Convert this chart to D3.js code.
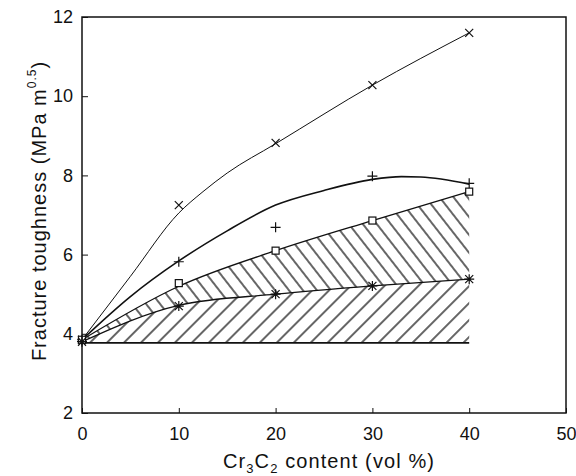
<!doctype html>
<html lang="en">
<head>
  <meta charset="utf-8">
  <script src="https://cdn.jsdelivr.net/npm/d3@7"></script>
  <style>
    body { margin: 0; background: #fff; }
    text { font-family: "Liberation Sans", Arial, sans-serif; fill: #111; }
  </style>
</head>
<body>
  <div id="chart"></div>
  <script>
  // data
  var xVals = [0, 10, 20, 30, 40];
  var crossY = [3.85, 7.25, 8.82, 10.28, 11.6];
  var plusY = [3.85, 5.82, 6.69, 7.98, 7.8];
  var squareY = [3.85, 5.28, 6.1, 6.86, 7.59];
  var starY = [3.8, 4.7, 5.0, 5.21, 5.38];

  // drawn curves
  var crossLineX = [0, 5, 10, 12.5, 15, 20, 30, 40];
  var crossLineY = [3.85, 5.45, 7.05, 7.59, 8.06, 8.8, 10.28, 11.6];
  var plusFitX = [0, 5, 10, 15, 20, 25, 30, 33, 35, 40];
  var plusFitY = [3.85, 4.94, 5.84, 6.6, 7.25, 7.62, 7.9, 7.97, 7.96, 7.78];
  var squareLineY = [3.85, 5.2, 6.1, 6.86, 7.59];
  var starLineY = [3.8, 4.72, 5.0, 5.21, 5.38];
  var baseY = 3.77;

  var xTicks = [0, 10, 20, 30, 40, 50];
  var yTicks = [2, 4, 6, 8, 10, 12];

  var width = 576, height = 476;
  var margin = {top: 17, right: 10, bottom: 63, left: 82};

  var svg = d3.select("#chart").append("svg")
      .attr("width", width)
      .attr("height", height);

  var x = d3.scaleLinear().domain([0, 50]).range([margin.left, width - margin.right]);
  var y = d3.scaleLinear().domain([2, 12]).range([height - margin.bottom, margin.top]);

  var defs = svg.append("defs");
  // backslash hatch (upper band)
  defs.append("pattern")
      .attr("id", "hatchBack")
      .attr("patternUnits", "userSpaceOnUse")
      .attr("width", 11).attr("height", 11)
      .attr("patternTransform", "rotate(-38)")
    .append("line")
      .attr("x1", 5).attr("y1", 0).attr("x2", 5).attr("y2", 11)
      .attr("stroke", "#000").attr("stroke-width", 1.2);
  // forward slash hatch (lower band)
  defs.append("pattern")
      .attr("id", "hatchFwd")
      .attr("patternUnits", "userSpaceOnUse")
      .attr("width", 12).attr("height", 12)
      .attr("patternTransform", "rotate(45)")
    .append("line")
      .attr("x1", 6).attr("y1", 0).attr("x2", 6).attr("y2", 12)
      .attr("stroke", "#000").attr("stroke-width", 1.2);

  var upperBand = xVals.map(function(d, i) { return {x: d, lo: starLineY[i], hi: squareLineY[i]}; });
  var lowerBand = xVals.map(function(d, i) { return {x: d, lo: baseY, hi: starLineY[i]}; });

  var band = d3.area()
      .x(function(d) { return x(d.x); })
      .y0(function(d) { return y(d.lo); })
      .y1(function(d) { return y(d.hi); })
      .curve(d3.curveMonotoneX);

  svg.append("path").datum(upperBand).attr("d", band).attr("fill", "url(#hatchBack)");
  svg.append("path").datum(lowerBand).attr("d", band).attr("fill", "url(#hatchFwd)");

  var line = d3.line()
      .x(function(d) { return x(d[0]); })
      .y(function(d) { return y(d[1]); })
      .curve(d3.curveMonotoneX);

  function pairs(xs, ys) { return xs.map(function(d, i) { return [d, ys[i]]; }); }

  svg.append("path").datum(pairs(crossLineX, crossLineY)).attr("d", line)
      .attr("fill", "none").attr("stroke", "#111").attr("stroke-width", 1);
  svg.append("path").datum(pairs(plusFitX, plusFitY)).attr("d", line)
      .attr("fill", "none").attr("stroke", "#111").attr("stroke-width", 1.6);
  svg.append("path").datum(pairs(xVals, squareLineY)).attr("d", line)
      .attr("fill", "none").attr("stroke", "#111").attr("stroke-width", 1.3);
  svg.append("path").datum(pairs(xVals, starLineY)).attr("d", line)
      .attr("fill", "none").attr("stroke", "#111").attr("stroke-width", 1.3);
  svg.append("line")
      .attr("x1", x(0)).attr("x2", x(40))
      .attr("y1", y(baseY)).attr("y2", y(baseY))
      .attr("stroke", "#111").attr("stroke-width", 1.6);

  // markers
  var mk = svg.append("g").attr("stroke", "#111").attr("fill", "none").attr("stroke-width", 1.2);
  var s = 4;
  pairs(xVals, crossY).forEach(function(p) {
    var cx = x(p[0]), cy = y(p[1]);
    mk.append("path").attr("d", "M" + (cx - s) + "," + (cy - s) + "L" + (cx + s) + "," + (cy + s) +
      "M" + (cx - s) + "," + (cy + s) + "L" + (cx + s) + "," + (cy - s));
  });
  pairs(xVals, plusY).forEach(function(p) {
    var cx = x(p[0]), cy = y(p[1]);
    mk.append("path").attr("d", "M" + (cx - 5) + "," + cy + "L" + (cx + 5) + "," + cy +
      "M" + cx + "," + (cy - 5) + "L" + cx + "," + (cy + 5));
  });
  pairs(xVals, squareY).forEach(function(p) {
    mk.append("rect").attr("x", x(p[0]) - 3.5).attr("y", y(p[1]) - 3.5)
      .attr("width", 7).attr("height", 7).attr("fill", "#fff");
  });
  pairs(xVals, starY).forEach(function(p) {
    var cx = x(p[0]), cy = y(p[1]);
    mk.append("path").attr("d", "M" + (cx - s) + "," + (cy - s) + "L" + (cx + s) + "," + (cy + s) +
      "M" + (cx - s) + "," + (cy + s) + "L" + (cx + s) + "," + (cy - s) +
      "M" + (cx - 5) + "," + cy + "L" + (cx + 5) + "," + cy +
      "M" + cx + "," + (cy - 5) + "L" + cx + "," + (cy + 5));
  });

  // frame
  svg.append("rect")
      .attr("x", x(0)).attr("y", y(12))
      .attr("width", x(50) - x(0)).attr("height", y(2) - y(12))
      .attr("fill", "none").attr("stroke", "#111").attr("stroke-width", 1.5);

  // axes with inward ticks
  svg.append("g")
      .attr("transform", "translate(0," + y(2) + ")")
      .call(d3.axisBottom(x).tickValues(xTicks).tickSizeInner(-5).tickSizeOuter(0).tickPadding(14))
      .call(function(g) {
        g.select(".domain").remove();
        g.selectAll("text").attr("font-size", 18).style("font-family", "Liberation Sans, Arial, sans-serif");
        g.selectAll("line").attr("stroke", "#111");
      });
  svg.append("g")
      .attr("transform", "translate(" + x(0) + ",0)")
      .call(d3.axisLeft(y).tickValues(yTicks).tickSizeInner(-6).tickSizeOuter(0).tickPadding(9))
      .call(function(g) {
        g.select(".domain").remove();
        g.selectAll("text").attr("font-size", 18).style("font-family", "Liberation Sans, Arial, sans-serif");
        g.selectAll("line").attr("stroke", "#111");
      });

  // axis titles
  var xt = svg.append("text")
      .attr("x", 329).attr("y", 468)
      .attr("text-anchor", "middle")
      .attr("font-size", 20)
      .attr("letter-spacing", 1.1);
  xt.append("tspan").text("Cr");
  xt.append("tspan").attr("font-size", 13).attr("dy", 5).text("3");
  xt.append("tspan").attr("dy", -5).text("C");
  xt.append("tspan").attr("font-size", 13).attr("dy", 5).text("2");
  xt.append("tspan").attr("dy", -5).text(" content (vol %)");

  var yt = svg.append("text")
      .attr("transform", "translate(46,211) rotate(-90)")
      .attr("text-anchor", "middle")
      .attr("font-size", 20)
      .attr("letter-spacing", 1);
  yt.append("tspan").text("Fracture toughness (MPa m");
  yt.append("tspan").attr("font-size", 12).attr("dy", -10).text("0.5");
  yt.append("tspan").attr("dy", 10).text(")");
  </script>
</body>
</html>
